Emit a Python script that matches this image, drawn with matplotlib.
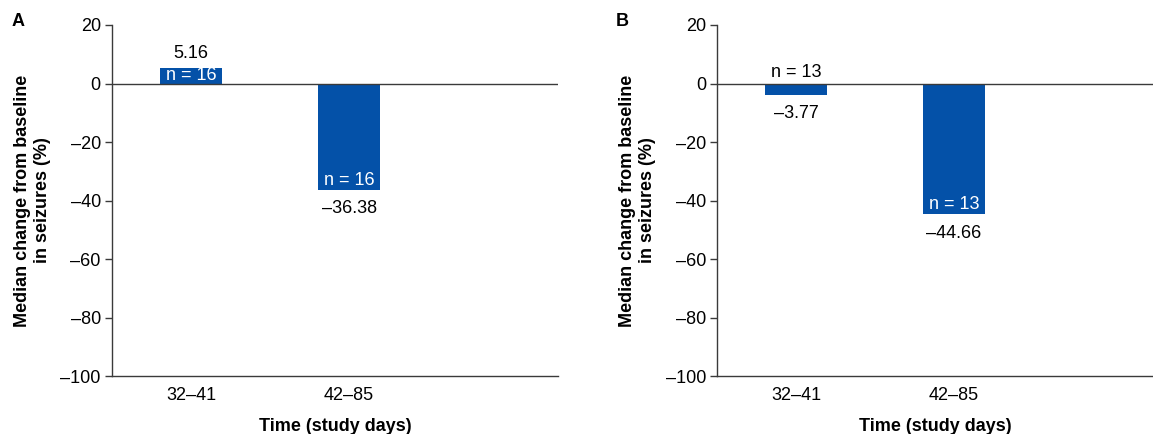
import matplotlib
matplotlib.use("Agg")
import matplotlib.pyplot as plt
import matplotlib.ticker as ticker

plt.rcParams["font.family"] = ["Liberation Sans", "DejaVu Sans"]

# ── Data ──────────────────────────────────────────────────────────────────────
periods = ["32–41", "42–85"]
change_a = [5.16, -36.38]
change_b = [-3.77, -44.66]
n_a = [16, 16]
n_b = [13, 13]

BAR_COLOR = "#0451A8"
AXIS_COLOR = "#3A3A3A"
FS = 13


def dash(v):
    return f"{v:g}".replace("-", "–")


def draw_panel(ax, values, ns, xmax):
    xs = list(range(len(values)))
    ax.bar(xs, values, width=0.39, color=BAR_COLOR, zorder=2)
    ax.axhline(0, color=AXIS_COLOR, linewidth=1.0, zorder=3)

    for x, v, n in zip(xs, values, ns):
        if v >= 0:
            ax.annotate(f"{v:.2f}", (x, v), xytext=(0, 15), textcoords="offset pixels",
                        ha="center", va="center", fontsize=FS)
            ax.annotate(f"n = {n}", (x, v), xytext=(0, -7), textcoords="offset pixels",
                        ha="center", va="center", fontsize=FS, color="white", zorder=4)
        else:
            ax.annotate(f"{v:.2f}".replace("-", "–"), (x, v), xytext=(0, -19),
                        textcoords="offset pixels", ha="center", va="center", fontsize=FS)
            if v > -8:
                ax.annotate(f"n = {n}", (x, 0), xytext=(0, 11), textcoords="offset pixels",
                            ha="center", va="center", fontsize=FS)
            else:
                ax.annotate(f"n = {n}", (x, v), xytext=(0, 9.5), textcoords="offset pixels",
                            ha="center", va="center", fontsize=FS, color="white", zorder=4)

    ax.set_xlim(-0.5, xmax)
    ax.set_ylim(-100, 20)
    ax.set_yticks(range(-100, 21, 20))
    ax.yaxis.set_major_formatter(ticker.FuncFormatter(lambda v, p: dash(v)))
    ax.set_xticks(xs)
    ax.set_xticklabels(periods)
    ax.tick_params(axis="x", length=0, pad=8, labelsize=FS)
    ax.tick_params(axis="y", length=5, width=1, color=AXIS_COLOR, pad=3, labelsize=FS)

    for side in ("top", "right"):
        ax.spines[side].set_visible(False)
    for side in ("left", "bottom"):
        ax.spines[side].set_color(AXIS_COLOR)
        ax.spines[side].set_linewidth(1.0)

    ax.set_xlabel("Time (study days)", fontsize=FS, fontweight="bold", labelpad=10)
    ax.set_ylabel("Median change from baseline\nin seizures (%)", fontsize=FS,
                  fontweight="bold", labelpad=7, multialignment="center")


fig = plt.figure(figsize=(11.53, 4.34), dpi=100)
ax_a = fig.add_axes([0.0971, 0.1336, 0.3868, 0.8088])
ax_b = fig.add_axes([0.6219, 0.1336, 0.3781, 0.8088])

draw_panel(ax_a, change_a, n_a, 2.32)
draw_panel(ax_b, change_b, n_b, 2.26)

fig.text(12 / 1153, 1 - 13 / 434, "A", fontsize=FS, fontweight="bold", ha="left", va="top")
fig.text(616 / 1153, 1 - 13 / 434, "B", fontsize=FS, fontweight="bold", ha="left", va="top")

fig.savefig("out.png", dpi=100, facecolor="white")
